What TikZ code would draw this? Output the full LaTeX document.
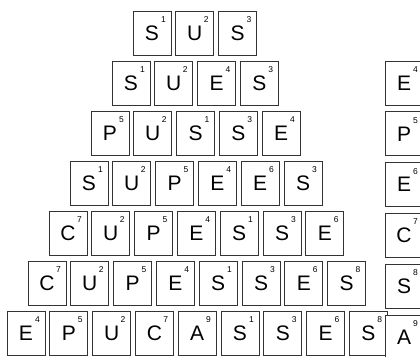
\documentclass[tikz,border=0pt]{standalone}
\usepackage{fontspec}
\setsansfont{Liberation Sans}
\usetikzlibrary{positioning}
\tikzset{
  tile/.style={draw=black!80, line width=0.8pt, fill=white, inner sep=0pt,
    minimum width=38pt, minimum height=44pt, font=\sffamily\fontsize{21}{21}\selectfont,
    label={[num]north east:#1}},
  num/.style={anchor=center, xshift=-8pt, yshift=-9pt, inner sep=0pt,
    font=\sffamily\fontsize{8.5}{8.5}\selectfont},
}
\begin{document}
\begin{tikzpicture}[x=1pt, y=1pt, node distance=4pt]
    \useasboundingbox (0,0) rectangle (420,-356);
    % row 1
    \node[tile=1] (a1) at (152,-33) {S};
    \node[tile=2, right=of a1] (a2) {U};
    \node[tile=3, right=of a2] (a3) {S};
    % row 2
    \node[tile=1] (b1) at (131,-83) {S};
    \node[tile=2, right=of b1] (b2) {U};
    \node[tile=4, right=of b2] (b3) {E};
    \node[tile=3, right=of b3] (b4) {S};
    % row 3
    \node[tile=5] (c1) at (110,-133) {P};
    \node[tile=2, right=of c1] (c2) {U};
    \node[tile=1, right=of c2] (c3) {S};
    \node[tile=3, right=of c3] (c4) {S};
    \node[tile=4, right=of c4] (c5) {E};
    % row 4
    \node[tile=1] (d1) at (89,-183) {S};
    \node[tile=2, right=of d1] (d2) {U};
    \node[tile=5, right=of d2] (d3) {P};
    \node[tile=4, right=of d3] (d4) {E};
    \node[tile=6, right=of d4] (d5) {E};
    \node[tile=3, right=of d5] (d6) {S};
    % row 5
    \node[tile=7] (e1) at (68,-233) {C};
    \node[tile=2, right=of e1] (e2) {U};
    \node[tile=5, right=of e2] (e3) {P};
    \node[tile=4, right=of e3] (e4) {E};
    \node[tile=1, right=of e4] (e5) {S};
    \node[tile=3, right=of e5] (e6) {S};
    \node[tile=6, right=of e6] (e7) {E};
    % row 6
    \node[tile=7] (f1) at (47,-283) {C};
    \node[tile=2, right=of f1] (f2) {U};
    \node[tile=5, right=of f2] (f3) {P};
    \node[tile=4, right=of f3] (f4) {E};
    \node[tile=1, right=of f4] (f5) {S};
    \node[tile=3, right=of f5] (f6) {S};
    \node[tile=6, right=of f6] (f7) {E};
    \node[tile=8, right=of f7] (f8) {S};
    % row 7
    \node[tile=4] (g1) at (26,-333) {E};
    \node[tile=5, right=of g1] (g2) {P};
    \node[tile=2, right=of g2] (g3) {U};
    \node[tile=7, right=of g3] (g4) {C};
    \node[tile=9, right=of g4] (g5) {A};
    \node[tile=1, right=of g5] (g6) {S};
    \node[tile=3, right=of g6] (g7) {S};
    \node[tile=6, right=of g7] (g8) {E};
    \node[tile=8, right=of g8] (g9) {S};
    % right column
    \node[tile=4] (x2) at (404,-83) {E};
    \node[tile=5, below=6pt of x2] (x3) {P};
    \node[tile=6, below=6pt of x3] (x4) {E};
    \node[tile=7, below=6pt of x4] (x5) {C};
    \node[tile=8, below=6pt of x5] (x6) {S};
    \node[tile=9, below=6pt of x6] (x7) {A};
\end{tikzpicture}
\end{document}
